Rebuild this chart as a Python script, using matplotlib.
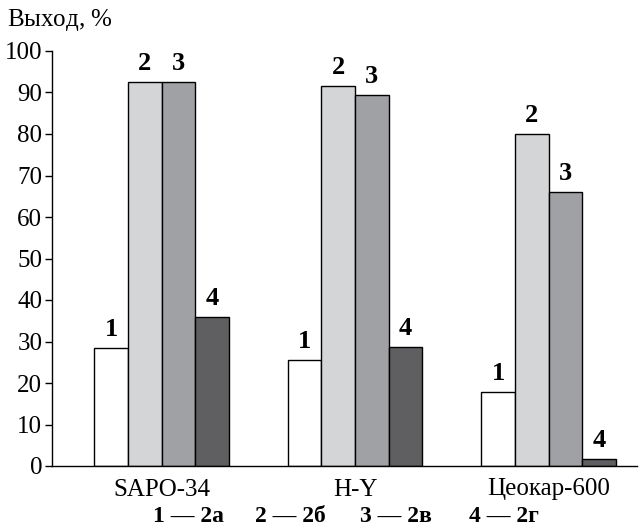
import numpy as np
import matplotlib.pyplot as plt

plt.rcParams['font.family'] = ['Liberation Serif', 'DejaVu Serif']
plt.rcParams['mathtext.fontset'] = 'custom'
plt.rcParams['mathtext.it'] = 'Liberation Serif:italic'
plt.rcParams['mathtext.rm'] = 'Liberation Serif'

# Data
catalysts = ['SAPO-34', 'H-Y', 'Цеокар-600']
series_labels = ['1', '2', '3', '4']
yield_1 = [28.5, 25.5, 17.8]
yield_2 = [92.5, 91.5, 80.0]
yield_3 = [92.5, 89.3, 66.0]
yield_4 = [36.0, 28.7, 1.7]
legend_items = ['1 — 2а', '2 — 2б', '3 — 2в', '4 — 2г']

series = [yield_1, yield_2, yield_3, yield_4]
colors = ['#ffffff', '#d4d5d7', '#a0a1a4', '#5f5f62']

fig = plt.figure(figsize=(6.39, 5.27), dpi=100)
ax = fig.add_axes([52 / 639, 1 - 466 / 527, 585 / 639, 415 / 527])

x = np.arange(len(catalysts))
width = 0.174
for i, (vals, col, lab) in enumerate(zip(series, colors, series_labels)):
    pos = x + (i - 1.5) * width
    ax.bar(pos, vals, width=width, color=col, edgecolor='black', linewidth=1.0)
    for p, v in zip(pos, vals):
        ax.annotate(lab, (p, v), xytext=(0, 5), textcoords='offset points',
                    ha='center', va='bottom', fontsize=19, fontweight='bold')

ax.set_xlim(-0.566, 2.457)
ax.set_ylim(0, 100)
ax.set_yticks(np.arange(0, 101, 10))
ax.set_xticks(x)
ax.set_xticklabels(catalysts)
ax.tick_params(axis='x', length=0, labelsize=18, pad=9)
ax.tick_params(axis='y', length=5, width=1, direction='out', labelsize=18, pad=2)
for s in ['top', 'right']:
    ax.spines[s].set_visible(False)
ax.spines['left'].set_linewidth(1)
ax.spines['bottom'].set_linewidth(1)

fig.text(7 / 639, 1 - 20 / 527, 'Выход, $\\mathit{\\%}$', fontsize=18,
         ha='left', va='center')

leg_x = [188, 290, 396, 504]
for lx, txt in zip(leg_x, legend_items):
    fig.text(lx / 639, 1 - 517 / 527, txt, fontsize=17, fontweight='bold',
             ha='center', va='center')

fig.savefig('out.png', dpi=100)
